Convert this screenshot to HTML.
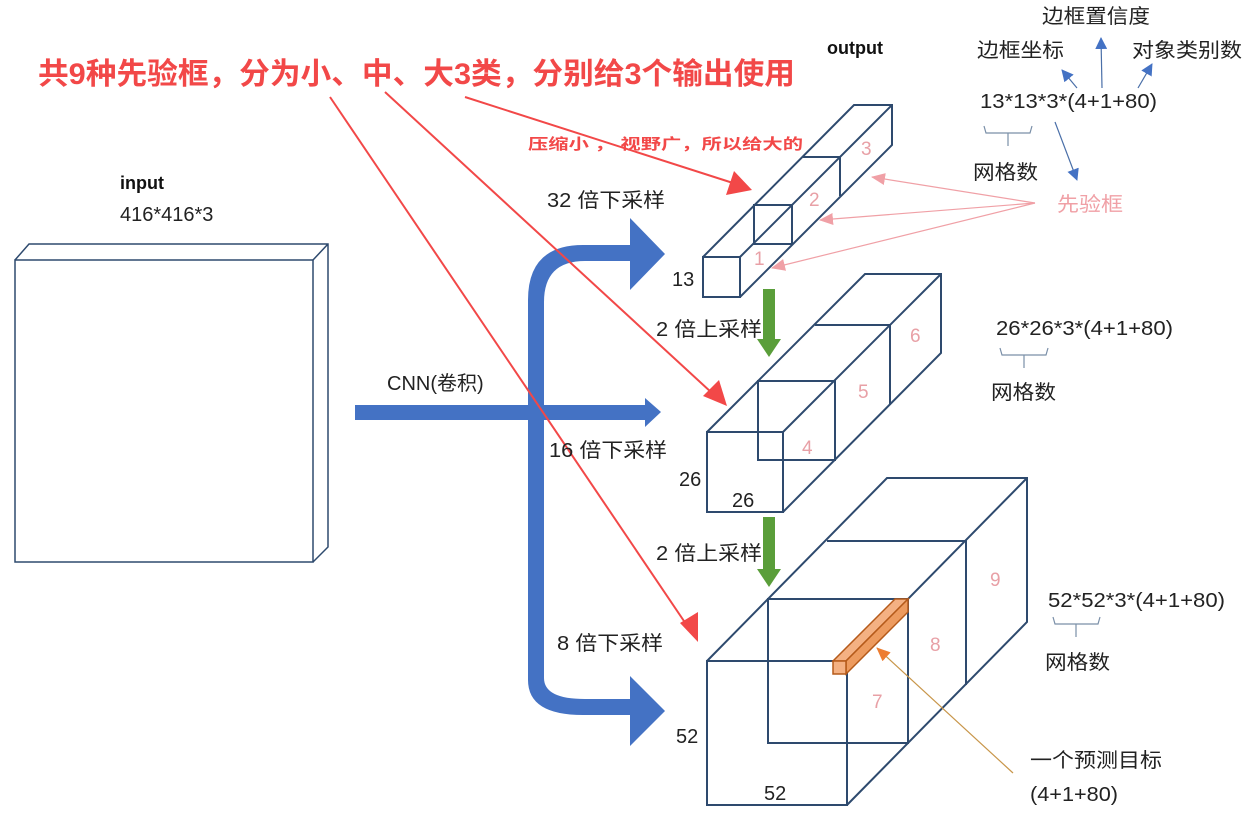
<!DOCTYPE html>
<html><head><meta charset="utf-8"><style>
html,body{margin:0;padding:0;background:#fff;}
svg{display:block;font-family:"Liberation Sans","Noto Sans CJK SC",sans-serif;}
</style></head><body>
<svg width="1250" height="814" viewBox="0 0 1250 814" xmlns="http://www.w3.org/2000/svg">
<defs>
<marker id="ph" markerWidth="14" markerHeight="12" refX="13" refY="6" orient="auto" markerUnits="userSpaceOnUse"><path d="M0,0 L14,6 L0,12z" fill="#f0a0a6"/></marker>
<marker id="bh" markerWidth="12" markerHeight="12" refX="11" refY="6" orient="auto" markerUnits="userSpaceOnUse"><path d="M0,0 L12,6 L0,12z" fill="#4472c4"/></marker>
<marker id="oh" markerWidth="14" markerHeight="12" refX="13" refY="6" orient="auto" markerUnits="userSpaceOnUse"><path d="M0,0 L14,6 L0,12z" fill="#ed7d31"/></marker>
</defs>

<g fill="none" stroke="#2e4a6e" stroke-width="1.5">
<rect x="15" y="260" width="298" height="302"/>
<path d="M15,260 L29,244 L328,244 L328,547 L313,562 M313,260 L328,244"/>
</g>

<g fill="#4472c4">
<path d="M528,680 L528,300 Q528,245 583,245 L630,245 L630,218 L665,254 L630,290 L630,261 L585,261 Q544,261 544,302 L544,678 Q544,699 585,699 L630,699 L630,676 L665,711 L630,746 L630,715 L583,715 Q528,715 528,680Z"/>
<path d="M355,405 L645,405 L645,398 L661,412 L645,427 L645,420 L355,420Z"/>
</g>

<g fill="#5a9e3a">
<path d="M763,289 L775,289 L775,339 L781,339 L769,357 L757,339 L763,339Z"/>
<path d="M763,517 L775,517 L775,569 L781,569 L769,587 L757,569 L763,569Z"/>
</g>

<g fill="none" stroke="#2e4a6e" stroke-width="2">
<rect x="703" y="257" width="37" height="40"/>
<path d="M703,257 L854,105 L892,105 L892,145 L740,297 M740,257 L892,105"/>
<rect x="754" y="205" width="38" height="39"/>
<path d="M803,157 L840,157 L840,196"/>
</g>
<g fill="none" stroke="#2e4a6e" stroke-width="2">
<rect x="707" y="432" width="76" height="80"/>
<path d="M707,432 L865,274 L941,274 L941,353 L783,512 M783,432 L941,274"/>
<rect x="758" y="381" width="77" height="79"/>
<path d="M815,325 L890,325 L890,405"/>
</g>
<g fill="none" stroke="#2e4a6e" stroke-width="2">
<rect x="707" y="661" width="140" height="144"/>
<path d="M707,661 L887,478 L1027,478 L1027,622 L847,805 M847,661 L1027,478"/>
<rect x="768" y="599" width="140" height="144"/>
<path d="M827,541 L966,541 L966,685"/>
</g>
<g stroke="#b55a1a" stroke-width="1.5" fill="#f4b183">
<path d="M833,661 L895,599 L908,599 L846,661Z"/>
<path d="M846,661 L908,599 L908,612 L846,674Z" fill="#ed9b5f"/>
<rect x="833" y="661" width="13" height="13"/>
</g>
<line x1="1013" y1="773" x2="877" y2="648" stroke="#c8964a" stroke-width="1.2" marker-end="url(#oh)"/>

<g stroke="#f24848" stroke-width="2" fill="none">
<line x1="465" y1="97" x2="733" y2="183"/>
<line x1="385" y1="92" x2="712" y2="393"/>
<line x1="330" y1="97" x2="688" y2="627"/>
</g>
<g fill="#f24848">
<path d="M752,190 L726,195 L734,171Z"/>
<path d="M727,406 L703,396 L719,380Z"/>
<path d="M698,642 L680,623 L698,612Z"/>
</g>

<g stroke="#f0a0a6" stroke-width="1.2" fill="none">
<line x1="1035" y1="203" x2="872" y2="177" marker-end="url(#ph)"/>
<line x1="1035" y1="203" x2="820" y2="220" marker-end="url(#ph)"/>
<line x1="1035" y1="203" x2="772" y2="268" marker-end="url(#ph)"/>
</g>

<g stroke="#4a6fa8" stroke-width="1.2" fill="none">
<line x1="1077" y1="88" x2="1062" y2="70" marker-end="url(#bh)"/>
<line x1="1102" y1="88" x2="1101" y2="38" marker-end="url(#bh)"/>
<line x1="1138" y1="88" x2="1152" y2="64" marker-end="url(#bh)"/>
<line x1="1055" y1="122" x2="1077" y2="180" marker-end="url(#bh)"/>
</g>
<g stroke="#7a8fa8" stroke-width="1.2" fill="none">
<path d="M984,126 L986,133 L1030,133 L1032,126 M1008,133 L1008,146"/>
<path d="M1000,348 L1002,355 L1046,355 L1048,348 M1024,355 L1024,368"/>
<path d="M1053,617 L1055,624 L1098,624 L1100,617 M1076,624 L1076,637"/>
</g>

<text x="38" y="84" font-size="30" font-weight="bold" fill="#f24848" textLength="757" lengthAdjust="spacingAndGlyphs">共9种先验框，分为小、中、大3类，分别给3个输出使用</text>
<text x="528" y="149" font-size="15" font-weight="bold" fill="#f24848" textLength="275" lengthAdjust="spacingAndGlyphs">压缩小 ，   视野广，所以给大的</text>
<g font-size="18" font-weight="bold" fill="#111">
<text x="827" y="54">output</text>
<text x="120" y="189">input</text>
</g>
<g font-size="20" fill="#222">
<text x="120" y="221">416*416*3</text>
<text x="387" y="390">CNN(卷积)</text>
<text x="547" y="207" textLength="118" lengthAdjust="spacingAndGlyphs">32 倍下采样</text>
<text x="549" y="457" textLength="118" lengthAdjust="spacingAndGlyphs">16 倍下采样</text>
<text x="557" y="650" textLength="106" lengthAdjust="spacingAndGlyphs">8 倍下采样</text>
<text x="656" y="336" textLength="106" lengthAdjust="spacingAndGlyphs">2 倍上采样</text>
<text x="656" y="560" textLength="106" lengthAdjust="spacingAndGlyphs">2 倍上采样</text>
<text x="672" y="286">13</text>
<text x="679" y="486">26</text>
<text x="732" y="507">26</text>
<text x="676" y="743">52</text>
<text x="764" y="800">52</text>
<text x="1042" y="23" textLength="108" lengthAdjust="spacingAndGlyphs">边框置信度</text>
<text x="977" y="57" textLength="87" lengthAdjust="spacingAndGlyphs">边框坐标</text>
<text x="1132" y="57" textLength="110" lengthAdjust="spacingAndGlyphs">对象类别数</text>
<text x="980" y="108" textLength="177" lengthAdjust="spacingAndGlyphs">13*13*3*(4+1+80)</text>
<text x="973" y="179" textLength="65" lengthAdjust="spacingAndGlyphs">网格数</text>
<text x="996" y="335" textLength="177" lengthAdjust="spacingAndGlyphs">26*26*3*(4+1+80)</text>
<text x="991" y="399" textLength="65" lengthAdjust="spacingAndGlyphs">网格数</text>
<text x="1048" y="607" textLength="177" lengthAdjust="spacingAndGlyphs">52*52*3*(4+1+80)</text>
<text x="1045" y="669" textLength="65" lengthAdjust="spacingAndGlyphs">网格数</text>
<text x="1030" y="767" textLength="132" lengthAdjust="spacingAndGlyphs">一个预测目标</text>
<text x="1030" y="801" textLength="88" lengthAdjust="spacingAndGlyphs">(4+1+80)</text>
</g>
<text x="1057" y="211" font-size="20" fill="#f0a0a6" textLength="66" lengthAdjust="spacingAndGlyphs">先验框</text>
<g font-size="19" fill="#e8a0a6">
<text x="754" y="265">1</text>
<text x="809" y="206">2</text>
<text x="861" y="155">3</text>
<text x="802" y="454">4</text>
<text x="858" y="398">5</text>
<text x="910" y="342">6</text>
<text x="872" y="708">7</text>
<text x="930" y="651">8</text>
<text x="990" y="586">9</text>
</g>
</svg>
</body></html>
